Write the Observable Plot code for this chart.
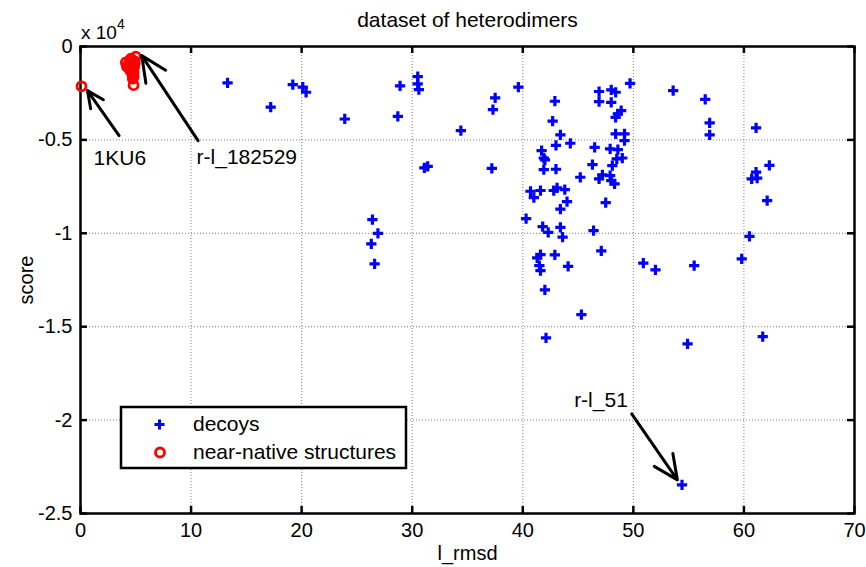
<!DOCTYPE html>
<html><head><meta charset="utf-8">
<script src="https://cdn.jsdelivr.net/npm/d3@7"></script>
<script src="https://cdn.jsdelivr.net/npm/@observablehq/plot@0.6"></script>
<style>
body{margin:0;background:#fff;}
#chart svg{display:block;}
</style></head><body><div id="chart"></div>
<script>
const titleText = "dataset of heterodimers";
const xLabel = "l_rmsd";
const yLabel = "score";
const seriesNames = ["decoys", "near-native structures"];

const decoyRmsd = [13.3,17.2,19.2,20.1,20.4,23.9,28.9,28.7,30.5,30.5,30.6,31.1,31.4,26.4,26.9,26.3,26.6,37.5,37.3,34.4,37.2,
39.6,42.9,42.7,43.4,43.0,44.3,41.7,41.9,42.0,41.9,43.0,45.2,40.7,41.0,41.6,42.8,43.1,43.8,44.0,43.4,40.3,41.8,42.3,43.4,43.6,
41.6,41.3,41.5,41.6,42.9,44.1,42.0,45.3,42.1,46.4,47.1,47.5,46.3,46.5,46.9,47.2,47.9,48.0,48.3,48.1,47.9,48.6,48.5,49.0,
48.4,49.2,49.2,46.9,46.9,48.0,48.0,48.4,48.9,48.6,48.4,49.7,50.9,52.0,
53.6,56.5,56.9,56.9,61.1,62.3,61.1,60.7,61.2,62.1,60.5,59.8,55.5,54.9,61.7,54.4];
const decoyScore = [-1950,-3250,-2040,-2180,-2450,-3880,-2110,-3740,-1610,-2000,-2310,-6500,-6420,-9270,-10000,-10570,-11640,-2750,-3380,-4500,-6520,
-2180,-2930,-4000,-4730,-5290,-5180,-5570,-5970,-6070,-6590,-6570,-7000,-7750,-8090,-7710,-7710,-7570,-7660,-8300,-8710,-9210,-9640,-9950,-9680,-10210,
-11140,-11320,-11730,-12000,-11150,-11770,-13030,-14350,-15600,-9860,-10940,-8360,-6320,-5400,-7090,-6870,-6910,-7180,-7350,-6380,-5480,-5520,-6020,-5970,
-4680,-4680,-5040,-2410,-2950,-2990,-2320,-2450,-3430,-3610,-3790,-1970,-11600,-11960,
-2360,-2830,-4090,-4730,-4360,-6360,-6730,-7090,-7050,-8250,-10160,-11370,-11730,-15920,-15530,-23470];

const nativeRmsd = [5.0,4.56,4.47,4.1,4.9,4.3,4.2,4.65,4.5,4.8,4.7,4.8,4.73,4.6,4.85,4.4,4.9,4.8,0.09];
const nativeScore = [-540,-650,-760,-850,-920,-1000,-1080,-1180,-1290,-1400,-1500,-1620,-1720,-1250,-1100,-900,-800,-2070,-2130];

const xTicks = [0,10,20,30,40,50,60,70];
const yTicks = [0,-5000,-10000,-15000,-20000,-25000];

const annLabels = ["1KU6","r-l_182529","r-l_51"];
const annTextX = [3.56,10.5,49.5];
const annTextY = [-6000,-5950,-18960];
const annAnchor = ["middle","start","end"];
const arrowX1 = [3.49,10.63,49.85];
const arrowY1 = [-4770,-5040,-19670];
const arrowX2 = [0.63,5.54,53.98];
const arrowY2 = [-2360,-487,-23200];

const decoys = decoyRmsd.map((x,i)=>({x, y: decoyScore[i]}));
const natives = nativeRmsd.map((x,i)=>({x, y: nativeScore[i]}));
const anns = annLabels.map((t,i)=>({t, x:annTextX[i], y:annTextY[i], a:annAnchor[i],
  x1:arrowX1[i], y1:arrowY1[i], x2:arrowX2[i], y2:arrowY2[i]}));

const FONT = "'Liberation Sans', Arial, sans-serif";
const gridStyle = {stroke:"#808080", strokeOpacity:1, strokeDasharray:"1,2", strokeWidth:1};

const xDom = [0,70], yDom = [-25000,0];
const W = 866, H = 567, mL = 80, mR = 12, mT = 46, mB = 54;
const TICK = 7; // inner tick length in pixels
const kx = TICK * (xDom[1]-xDom[0]) / (W - mL - mR);
const ky = TICK * (yDom[1]-yDom[0]) / (H - mT - mB);
const tickStyle = {stroke:"black", strokeWidth:2.5};

const annText = anchor => Plot.text(anns.filter(d => d.a === anchor),
  {x:"x", y:"y", text:"t", textAnchor: anchor, fontSize:21, fill:"black"});

const plot = Plot.plot({
  width: W, height: H,
  marginLeft: mL, marginRight: mR, marginTop: mT, marginBottom: mB,
  style: {fontFamily: FONT, fontSize: "20px", color: "black", background: "white"},
  x: {domain: xDom},
  y: {domain: yDom},
  marks: [
    Plot.gridX(xTicks.slice(1,-1), gridStyle),
    Plot.gridY(yTicks.slice(1,-1), gridStyle),
    Plot.axisX(xTicks, {tickSize:0, tickPadding:9, fontSize:20,
      label: xLabel, labelAnchor:"center", labelOffset:46, labelArrow:"none"}),
    Plot.axisY(yTicks, {tickSize:0, tickPadding:8, fontSize:20,
      tickFormat: d => String(d/1e4), label: yLabel, labelAnchor:"center", labelOffset:62, labelArrow:"none"}),
    Plot.ruleX(xTicks, {x: d => d, y1: yDom[0], y2: yDom[0] + ky, ...tickStyle}),
    Plot.ruleX(xTicks, {x: d => d, y1: yDom[1], y2: yDom[1] - ky, ...tickStyle}),
    Plot.ruleY(yTicks, {y: d => d, x1: xDom[0], x2: xDom[0] + kx, ...tickStyle}),
    Plot.ruleY(yTicks, {y: d => d, x1: xDom[1], x2: xDom[1] - kx, ...tickStyle}),
    Plot.frame({stroke:"black", strokeWidth:2.5}),
    Plot.dot(decoys, {x:"x", y:"y", symbol:"plus", r:3.4, stroke:"#0000ff", strokeWidth:3.2}),
    Plot.dot(natives, {x:"x", y:"y", symbol:"circle", r:4.5, stroke:"#ff0000", strokeWidth:2.8, fill:"none"}),
    Plot.arrow(anns, {x1:"x1", y1:"y1", x2:"x2", y2:"y2", stroke:"black", strokeWidth:3, headLength:14, headAngle:50, inset:0}),
    annText("middle"), annText("start"), annText("end"),
    Plot.text([titleText], {frameAnchor:"top", lineAnchor:"middle", dy:-26, fontSize:21, fill:"black"})
  ]
});
document.getElementById("chart").appendChild(plot);

const svg = d3.select(plot);
// exponent label
const ex = svg.append("text").attr("x",81).attr("y",39).attr("text-anchor","start")
  .attr("font-family",FONT).attr("font-size",19).attr("fill","black");
ex.append("tspan").text("x 10");
ex.append("tspan").attr("dy",-10).attr("font-size",14).text("4");

// legend
const lg = svg.append("g").attr("text-anchor","start");
lg.append("rect").attr("x",121).attr("y",407).attr("width",285).attr("height",61)
  .attr("fill","white").attr("stroke","black").attr("stroke-width",2.5);
lg.append("path").attr("d","M154.5,424.5h10M159.5,419.5v10").attr("stroke","#0000ff").attr("stroke-width",3);
lg.append("circle").attr("cx",160).attr("cy",452.5).attr("r",4.5).attr("fill","none").attr("stroke","#ff0000").attr("stroke-width",2.8);
seriesNames.forEach((n,i)=>{
  lg.append("text").attr("x",193).attr("y",431+i*28).attr("font-family",FONT).attr("font-size",21).attr("fill","black").text(n);
});
</script></body></html>
